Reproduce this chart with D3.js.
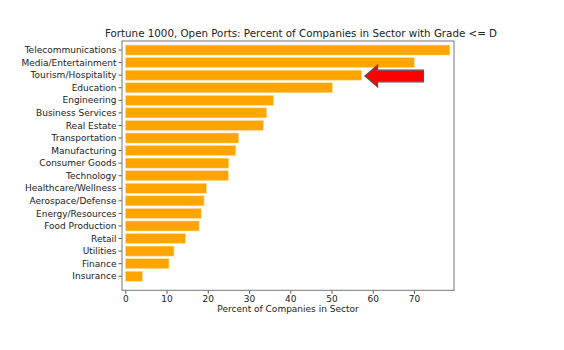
<!DOCTYPE html>
<html>
<head>
<meta charset="utf-8">
<script src="https://cdn.jsdelivr.net/npm/d3@7"></script>
<style>
    body { margin: 0; background: #fff; }
    text { font-family: "DejaVu Sans", sans-serif; fill: #222; }
</style>
</head>
<body>
<svg id="drawing_region"></svg>
<script>
// sectors, top to bottom
const sectors = [
    "Telecommunications", "Media/Entertainment", "Tourism/Hospitality", "Education",
    "Engineering", "Business Services", "Real Estate", "Transportation",
    "Manufacturing", "Consumer Goods", "Technology", "Healthcare/Wellness",
    "Aerospace/Defense", "Energy/Resources", "Food Production", "Retail",
    "Utilities", "Finance", "Insurance"
];
// percent of companies with grade <= D
const percents = [
    78.7, 70.1, 57.3, 50.2,
    35.9, 34.3, 33.5, 27.5,
    26.8, 25.1, 25.0, 19.7,
    19.1, 18.4, 17.9, 14.6,
    11.8, 10.6, 4.2
];
const xTicks = [0, 10, 20, 30, 40, 50, 60, 70];
// red arrow pointing at Tourism/Hospitality
const arrowRow = "Tourism/Hospitality";
const arrowFrom = 72.3;
const arrowTo = 58.1;

const config = { parent: '#drawing_region', width: 564, height: 350 };
const margin = { left: 122, right: 110, top: 41, bottom: 59.7 };

const svg = d3.select(config.parent)
    .attr('width', config.width)
    .attr('height', config.height);

const x = d3.scaleLinear()
    .domain([-0.8, 79.7])
    .range([margin.left, config.width - margin.right]);

const idx = d3.scaleLinear()
    .domain([-0.72, 19.12])
    .range([margin.top, config.height - margin.bottom]);
const step = idx(1) - idx(0);
const barH = step * 0.8;

const data = sectors.map((s, i) => ({ sector: s, value: percents[i], i: i }));

// bars
svg.selectAll('.bar')
    .data(data)
    .enter()
    .append('rect')
    .attr('class', 'bar')
    .attr('x', x(0))
    .attr('y', d => idx(d.i) - barH / 2)
    .attr('width', d => x(d.value) - x(0))
    .attr('height', barH)
    .attr('fill', 'orange')
    .attr('stroke', '#ffe0a8')
    .attr('stroke-width', 0.6);

// y axis ticks and labels
const yg = svg.append('g');
data.forEach(d => {
    yg.append('line')
        .attr('x1', x.range()[0] - 3.5).attr('x2', x.range()[0])
        .attr('y1', idx(d.i)).attr('y2', idx(d.i))
        .attr('stroke', '#333').attr('stroke-width', 0.8);
    yg.append('text')
        .attr('x', x.range()[0] - 5.5)
        .attr('y', idx(d.i))
        .attr('dy', '0.35em')
        .attr('text-anchor', 'end')
        .style('font-size', '9px')
        .text(d.sector);
});

// x axis
const xAxis = d3.axisBottom(x)
    .tickValues(xTicks)
    .tickSize(3.5)
    .tickPadding(2);
const xg = svg.append('g')
    .attr('transform', `translate(0, ${idx.range()[1]})`)
    .call(xAxis);
xg.select('.domain').remove();
xg.selectAll('line').attr('stroke', '#333').attr('stroke-width', 0.8);
xg.selectAll('text').style('font-size', '9px').style('font-family', '"DejaVu Sans", sans-serif').attr('fill', '#222');

// frame
svg.append('rect')
    .attr('x', x.range()[0])
    .attr('y', idx.range()[0])
    .attr('width', x.range()[1] - x.range()[0])
    .attr('height', idx.range()[1] - idx.range()[0])
    .attr('fill', 'none')
    .attr('stroke', '#777')
    .attr('stroke-width', 1);

// arrow
const ay = idx(sectors.indexOf(arrowRow)) + 0.8;
const tipX = x(arrowTo), tailX = x(arrowFrom);
const headLen = 12.7, headHalf = 11, bodyHalf = 5.8;
const p = d3.path();
p.moveTo(tipX, ay);
p.lineTo(tipX + headLen, ay - headHalf);
p.lineTo(tipX + headLen, ay - bodyHalf);
p.lineTo(tailX, ay - bodyHalf);
p.lineTo(tailX, ay + bodyHalf);
p.lineTo(tipX + headLen, ay + bodyHalf);
p.lineTo(tipX + headLen, ay + headHalf);
p.closePath();
svg.append('path')
    .attr('d', p.toString())
    .attr('fill', 'red')
    .attr('stroke', '#555')
    .attr('stroke-width', 1.2)
    .attr('stroke-linejoin', 'miter');

// title and x label
svg.append('text')
    .attr('x', 301)
    .attr('y', 37)
    .attr('text-anchor', 'middle')
    .style('font-size', '10.3px')
    .text('Fortune 1000, Open Ports: Percent of Companies in Sector with Grade <= D');

svg.append('text')
    .attr('x', (x.range()[0] + x.range()[1]) / 2)
    .attr('y', 312)
    .attr('text-anchor', 'middle')
    .style('font-size', '9px')
    .text('Percent of Companies in Sector');
</script>
</body>
</html>
